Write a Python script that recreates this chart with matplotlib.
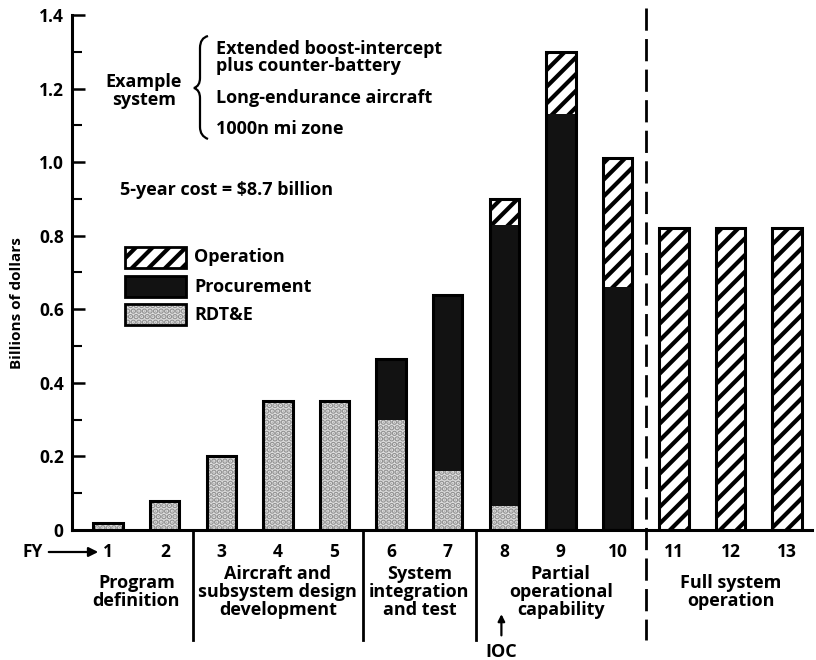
import matplotlib
matplotlib.use("Agg")
import matplotlib.pyplot as plt
from matplotlib.patches import Rectangle, PathPatch
from matplotlib.path import Path
import numpy as np

plt.rcParams['font.family'] = ['Open Sans', 'DejaVu Sans']
plt.rcParams['hatch.linewidth'] = 3.0

# ---- data ----
years = [1, 2, 3, 4, 5, 6, 7, 8, 9, 10, 11, 12, 13]
year_labels = ['1', '2', '3', '4', '5', '6', '7', '8', '9', '10', '11', '12', '13']
rdte = [0.02, 0.08, 0.20, 0.35, 0.35, 0.30, 0.16, 0.065, 0.0, 0.0, 0.0, 0.0, 0.0]
procurement = [0.0, 0.0, 0.0, 0.0, 0.0, 0.165, 0.48, 0.765, 1.13, 0.66, 0.0, 0.0, 0.0]
operation = [0.0, 0.0, 0.0, 0.0, 0.0, 0.0, 0.0, 0.07, 0.17, 0.35, 0.82, 0.82, 0.82]
phases = ['Program\ndefinition', 'Aircraft and\nsubsystem design\ndevelopment',
          'System\nintegration\nand test', 'Partial\noperational\ncapability',
          'Full system\noperation']
phase_centers = [1.5, 4.0, 6.5, 9.0, 12.0]
phase_bounds = [2.5, 5.5, 7.5]
ioc_year = 7.95
yticks = [0, 0.2, 0.4, 0.6, 0.8, 1.0, 1.2, 1.4]
ytick_labels = ['0', '0.2', '0.4', '0.6', '0.8', '1.0', '1.2', '1.4']

W, H = 816, 660
fig = plt.figure(figsize=(W / 100, H / 100), dpi=100)
ax = fig.add_axes([72 / W, 1 - 530 / H, 740 / W, 515 / H])

def fx(px):
    return px / W

def fy(py):
    return 1 - py / H

FS = 13
RD_FACE, RD_HATCH = '#e2e2e2', '#929292'
PR_FACE = '#121212'
OP_FACE = 'white'

width = 0.52
x = np.array(years, dtype=float)
rd = np.array(rdte)
pr = np.array(procurement)
op = np.array(operation)

ax.bar(x, rd, width, color=RD_FACE, edgecolor=RD_HATCH, hatch='...', linewidth=0)
ax.bar(x, pr, width, bottom=rd, color=PR_FACE, linewidth=0)
ax.bar(x, op, width, bottom=rd + pr, color=OP_FACE, edgecolor='black', hatch='//', linewidth=0)
tot = rd + pr + op
ax.bar(x, tot, width, fill=False, edgecolor='black', linewidth=2.2)

ax.set_xlim(0.36, 13.44)
ax.set_ylim(0, 1.4)
ax.set_yticks(yticks)
ax.set_yticklabels(ytick_labels, fontsize=12.5, fontweight='bold')
ax.set_yticks(np.arange(0.1, 1.4, 0.2), minor=True)
ax.tick_params(axis='y', which='major', direction='in', length=9, width=1.8, pad=6)
ax.tick_params(axis='y', which='minor', direction='in', length=7, width=1.5)
ax.set_xticks([])
for s in ['top', 'right']:
    ax.spines[s].set_visible(False)
ax.spines['left'].set_linewidth(2.2)
ax.spines['bottom'].set_linewidth(2.2)

fig.text(fx(17), fy(303), 'Billions of dollars', rotation=90, ha='center', va='center',
         fontsize=11, fontweight='bold')

tr = ax.get_xaxis_transform()
for xi, lab in zip(years, year_labels):
    ax.text(xi, -0.043, lab, transform=tr, ha='center', va='center', fontsize=12.5,
            fontweight='bold', clip_on=False)
fig.text(fx(33), fy(552), 'FY', ha='center', va='center', fontsize=12.5, fontweight='bold')
ax.annotate('', xy=(fx(101), fy(552)), xycoords='figure fraction',
            xytext=(fx(46), fy(552)), textcoords='figure fraction',
            arrowprops=dict(arrowstyle='-|>', color='black', lw=1.6, mutation_scale=14))

for b in phase_bounds:
    ax.plot([b, b], [0, -0.213], transform=tr, color='black', lw=2, clip_on=False)
ax.plot([10.5, 10.5], [1.014, -0.213], transform=tr, color='black', lw=2,
        linestyle=(0, (8, 3)), clip_on=False)

for c, t in zip(phase_centers, phases):
    ax.text(c, -0.12, t, transform=tr, ha='center', va='center', fontsize=FS,
            fontweight='bold', linespacing=0.98, clip_on=False)

ax.annotate('', xy=(ioc_year, -0.158), xycoords=tr, xytext=(ioc_year, -0.21), textcoords=tr,
            arrowprops=dict(arrowstyle='-|>', color='black', lw=1.6, mutation_scale=10))
ax.text(ioc_year, -0.237, 'IOC', transform=tr, ha='center', va='center', fontsize=FS,
        fontweight='bold', clip_on=False)

fig.text(fx(144), fy(91), 'Example\nsystem', ha='center', va='center', fontsize=FS,
         fontweight='bold', linespacing=1.0)
verts = [(fx(208), fy(36)), (fx(200), fy(38)), (fx(200), fy(48)),
         (fx(200), fy(78)),
         (fx(200), fy(86)), (fx(194), fy(88)),
         (fx(200), fy(90)), (fx(200), fy(98)),
         (fx(200), fy(127)),
         (fx(200), fy(136)), (fx(208), fy(139))]
codes = [Path.MOVETO, Path.CURVE3, Path.CURVE3, Path.LINETO, Path.CURVE3, Path.CURVE3,
         Path.CURVE3, Path.CURVE3, Path.LINETO, Path.CURVE3, Path.CURVE3]
fig.patches.append(PathPatch(Path(verts, codes), transform=fig.transFigure, fill=False,
                             lw=1.6, edgecolor='black'))
for yy, t in [(49, 'Extended boost-intercept'), (66, 'plus counter-battery'),
              (98, 'Long-endurance aircraft'), (129, '1000n mi zone')]:
    fig.text(fx(216), fy(yy), t, ha='left', va='center', fontsize=FS, fontweight='bold')

fig.text(fx(120), fy(190), '5-year cost = $8.7 billion', ha='left', va='center',
         fontsize=FS, fontweight='bold')

leg = [('Operation', 247, dict(facecolor=OP_FACE, edgecolor='black', hatch='//')),
       ('Procurement', 276, dict(facecolor=PR_FACE, edgecolor=PR_FACE)),
       ('RDT&E', 304, dict(facecolor=RD_FACE, edgecolor=RD_HATCH, hatch='...'))]
for name, top, st in leg:
    fig.patches.append(Rectangle((fx(125), fy(top + 21)), fx(61), 21 / H,
                                 transform=fig.transFigure, linewidth=0, **st))
    fig.patches.append(Rectangle((fx(125), fy(top + 21)), fx(61), 21 / H,
                                 transform=fig.transFigure, fill=False,
                                 edgecolor='black', linewidth=2))
    fig.text(fx(194), fy(top + 10.5), name, ha='left', va='center', fontsize=FS,
             fontweight='bold')

fig.savefig('out.png', dpi=100)
